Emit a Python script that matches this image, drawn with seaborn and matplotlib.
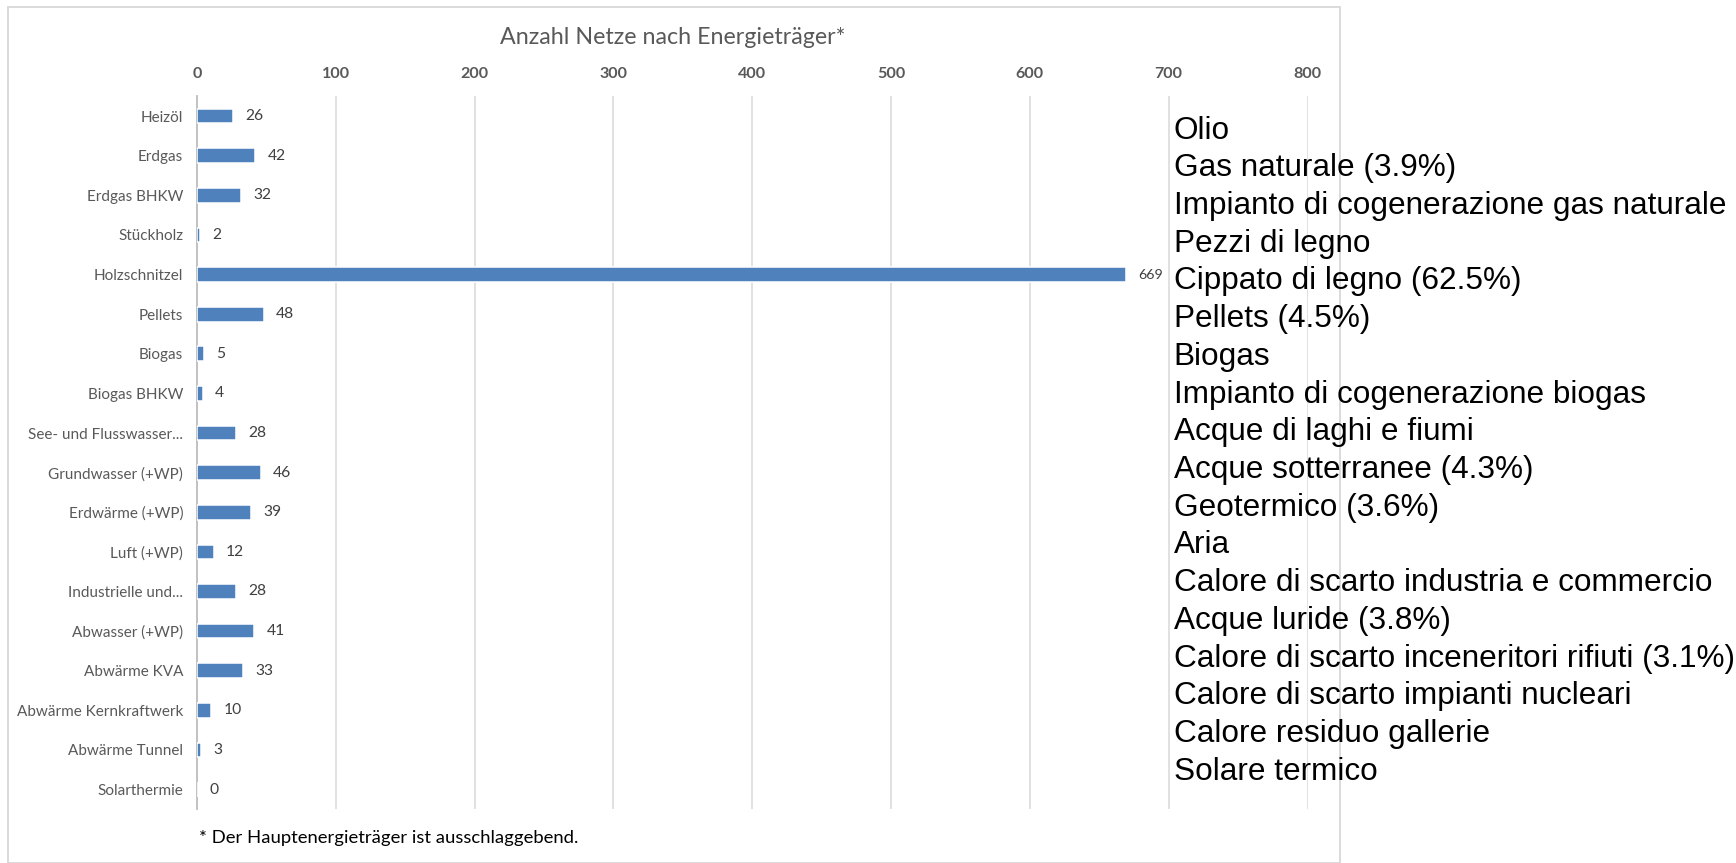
import pandas as pd
import matplotlib.pyplot as plt
import seaborn as sns
from matplotlib.patches import Rectangle

categories = ['Heizöl', 'Erdgas', 'Erdgas BHKW', 'Stückholz', 'Holzschnitzel', 'Pellets',
              'Biogas', 'Biogas BHKW', 'See- und Flusswasser...', 'Grundwasser (+WP)',
              'Erdwärme (+WP)', 'Luft (+WP)', 'Industrielle und...', 'Abwasser (+WP)',
              'Abwärme KVA', 'Abwärme Kernkraftwerk', 'Abwärme Tunnel', 'Solarthermie']
counts = [26, 42, 32, 2, 669, 48, 5, 4, 28, 46, 39, 12, 28, 41, 33, 10, 3, 0]
italian = ['Olio', 'Gas naturale (3.9%)', 'Impianto di cogenerazione gas naturale',
           'Pezzi di legno', 'Cippato di legno (62.5%)', 'Pellets (4.5%)', 'Biogas',
           'Impianto di cogenerazione biogas', 'Acque di laghi e fiumi',
           'Acque sotterranee (4.3%)', 'Geotermico (3.6%)', 'Aria',
           'Calore di scarto industria e commercio', 'Acque luride (3.8%)',
           'Calore di scarto inceneritori rifiuti (3.1%)', 'Calore di scarto impianti nucleari',
           'Calore residuo gallerie', 'Solare termico']
xticks = [0, 100, 200, 300, 400, 500, 600, 700, 800]

df = pd.DataFrame({'Energietraeger': categories, 'Anzahl': counts})

sns.set_style('white')
plt.rcParams['font.family'] = ['Lato', 'DejaVu Sans']

# layout worked out on a 1568 px wide grid, rendered to 1736x863
W, H = 1568, 863 * 1568 / 1736
DPI = 1736 / 15.68
fig = plt.figure(figsize=(W / 100, H / 100), dpi=DPI)

# chart frame (Excel style box)
fig.patches.append(Rectangle((7 / W, 0), (1210 - 7) / W, 1 - 6 / H, transform=fig.transFigure,
                             fill=False, edgecolor='#d9d9d9', linewidth=1.2, zorder=0))

ax = fig.add_axes([178 / W, 1 - 731 / H, (1181 - 178) / W, (731 - 87) / H])
sns.barplot(data=df, x='Anzahl', y='Energietraeger', color='#4f81bd', width=0.37,
            saturation=1, ax=ax, zorder=3)

ax.set_xlim(0, 800)
ax.set_xticks(xticks)
ax.xaxis.tick_top()
ax.tick_params(axis='x', length=0, pad=10, labelsize=10.5, labelcolor='#595959')
for t in ax.get_xticklabels():
    t.set_fontweight('bold')
ax.tick_params(axis='y', length=0, pad=9, labelsize=9.9, labelcolor='#595959')
ax.set_xlabel('')
ax.set_ylabel('')
ax.grid(axis='x', color='#d9d9d9', linewidth=1)
for s in ['top', 'right', 'bottom']:
    ax.spines[s].set_visible(False)
ax.spines['left'].set_color('#bfbfbf')
ax.spines['left'].set_linewidth(1.2)

for i, v in enumerate(counts):
    ax.annotate(str(v), (v, i), xytext=(8, 0), textcoords='offset points',
                va='center', ha='left', fontsize=9.3 if v > 600 else 10.2, color='#404040')

fig.text(608 / W, 1 - 34 / H, 'Anzahl Netze nach Energieträger*', ha='center', va='center',
         fontsize=15.1, color='#595959')
fig.text(180 / W, 1 - 757 / H, '* Der Hauptenergieträger ist ausschlaggebend.', ha='left',
         va='center', fontsize=12, color='black')

# Italian translations on the right
for i, lab in enumerate(italian):
    yp = 1 - (118 + i * 34.06) / H
    fig.text(1060 / W, yp, lab, ha='left', va='center', fontsize=20.5, color='black',
             family=['Liberation Sans', 'DejaVu Sans'])

fig.savefig('out.png', dpi=DPI)
